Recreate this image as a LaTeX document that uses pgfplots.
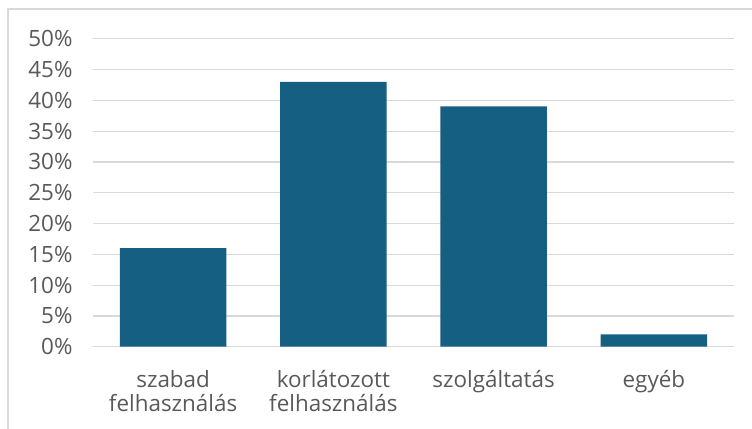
\documentclass[border=0pt]{standalone}
\usepackage{pgfplots}
\pgfplotsset{compat=1.18}
\usepackage{fontspec}
\setmainfont{Open Sans}
\definecolor{barc}{HTML}{156082}
\definecolor{gridc}{HTML}{D9D9D9}
\definecolor{txt}{HTML}{595959}
\begin{document}
\begin{tikzpicture}
\useasboundingbox (-93bp,-82.3bp) rectangle (659bp,346.7bp);
\draw[gridc, line width=1.2bp] (-85bp,-83bp) -- (-85bp,337.7bp) -- (660bp,337.7bp);
\begin{axis}[
  at={(0,0)}, anchor=south west,
  scale only axis,
  width=641bp, height=308bp,
  xmin=-0.5, xmax=3.5,
  ymin=0, ymax=50,
  ytick={0,5,...,50},
  xtick=data,
  xticklabels={{szabad\\felhasználás},{korlátozott\\felhasználás},szolgáltatás,egyéb},
  yticklabel={\pgfmathprintnumber{\tick}\%},
  /pgf/number format/assume math mode=true,
  axis line style={draw=none},
  major tick length=0pt,
  ymajorgrids,
  grid style={gridc, line width=1.2bp},
  ticklabel style={font=\fontsize{22.5}{24.5}\selectfont, text=txt},
  xticklabel style={align=center, yshift=-20bp},
  yticklabel style={xshift=-17bp},
  clip=false,
]
\addplot[ybar, bar width=106.7bp, fill=barc, draw=none] coordinates {(0,16) (1,43) (2,39) (3,2)};
\end{axis}
\end{tikzpicture}
\end{document}
